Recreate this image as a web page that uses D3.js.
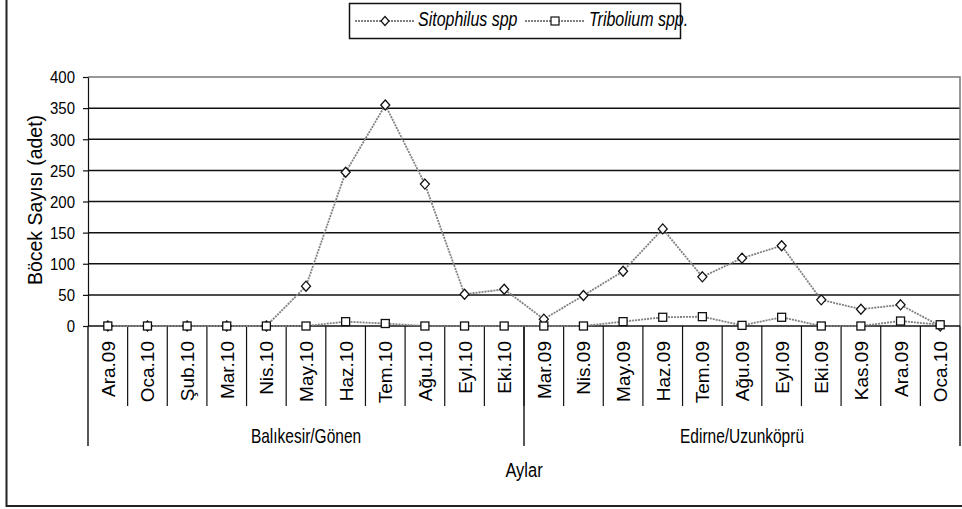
<!DOCTYPE html>
<html><head><meta charset="utf-8">
<script src="https://cdn.jsdelivr.net/npm/d3@7/dist/d3.min.js"></script>
<style>body{margin:0;background:#fff}svg{display:block;font-family:"Liberation Sans",Arial,sans-serif}</style>
</head><body><svg id="c" width="962" height="509"></svg>
<script>
const groups = ["Balıkesir/Gönen", "Edirne/Uzunköprü"];
const months1 = ["Ara.09","Oca.10","Şub.10","Mar.10","Nis.10","May.10","Haz.10","Tem.10","Ağu.10","Eyl.10","Eki.10"];
const months2 = ["Mar.09","Nis.09","May.09","Haz.09","Tem.09","Ağu.09","Eyl.09","Eki.09","Kas.09","Ara.09","Oca.10"];
const sitophilus = [0,0,0,0,0,64,247,355,228,51,59, 11,49,88,156,79,109,129,42,27,34,0];
const tribolium  = [0,0,0,0,0,0,7,4,0,0,0, 0,0,7,14,15,1,14,0,0,8,2];
const yTicks = [0,50,100,150,200,250,300,350,400];
const seriesNames = ["Sitophilus spp", "Tribolium spp."];

const svg = d3.select("#c");
const L = 88, R = 960, T = 77, B = 326;
const cats = months1.map((m,i)=>"g1_"+i).concat(months2.map((m,i)=>"g2_"+i));
const labels = months1.concat(months2);
const x = d3.scaleBand().domain(cats).range([L,R]);
const y = d3.scaleLinear().domain([0,400]).range([B,T]);

// horizontal text with vertical stretch
function stext(g, tx, ty, str, size, k, anchor, style){
  const t = g.append("text").attr("transform",`translate(${tx},${ty}) scale(1,${k})`)
    .attr("text-anchor",anchor||"start").attr("font-size",size).text(str);
  if(style) t.attr("font-style",style);
  return t;
}

// outer frame (left & bottom visible)
svg.append("path").attr("d",`M6.5,0 V506 H962`).attr("fill","none").attr("stroke","#222").attr("stroke-width",2);

// gridlines
svg.append("g").selectAll("line").data(yTicks.filter(v=>v>0&&v<400)).join("line")
  .attr("x1",L).attr("x2",R).attr("y1",d=>y(d)).attr("y2",d=>y(d))
  .attr("stroke","#111").attr("stroke-width",1.5);
// plot border top & right
svg.append("path").attr("d",`M${L},${y(400)} H${R} V${B}`).attr("fill","none").attr("stroke","#777").attr("stroke-width",1.5);

// y axis
const ya = svg.append("g").attr("transform",`translate(${L},0)`)
  .call(d3.axisLeft(y).tickValues(yTicks).tickSize(5).tickPadding(8).tickSizeOuter(0));
ya.select(".domain").attr("stroke","#111").attr("stroke-width",1.2);
ya.selectAll(".tick line").attr("stroke","#111").attr("stroke-width",1.2);
ya.selectAll(".tick text").attr("font-size",15).attr("font-family","Liberation Sans, Arial").attr("fill","#000")
  .attr("dy",null).attr("y",5.8).attr("transform","scale(1,1.15)")
  .each(function(){ const tk=d3.select(this.parentNode); });
// fix scaled tick label positions: put scale around local origin (tick's translate applies outside)
ya.selectAll(".tick text").attr("transform","scale(1,1.15)").attr("y",5.0);

// x axis line
svg.append("line").attr("x1",L).attr("x2",R).attr("y1",B).attr("y2",B).attr("stroke","#111").attr("stroke-width",1.5);
// month dividers
const divs = cats.map(c=>x(c)).slice(1);
svg.append("g").selectAll("line").data(divs).join("line")
  .attr("x1",d=>d).attr("x2",d=>d).attr("y1",B).attr("y2",406).attr("stroke","#111").attr("stroke-width",1.2);
// group dividers
const gdiv = [L, x("g2_0"), R];
svg.append("g").selectAll("line").data(gdiv).join("line")
  .attr("x1",d=>d).attr("x2",d=>d).attr("y1",B).attr("y2",446).attr("stroke","#111").attr("stroke-width",1.4);
// month labels
svg.append("g").selectAll("text").data(cats).join("text")
  .attr("transform",c=>`translate(${x(c)+x.bandwidth()/2+7},341) rotate(-90)`)
  .attr("text-anchor","end").attr("font-size",19).text((c,i)=>labels[i]);
// group labels
stext(svg,(L+x("g2_0"))/2,443,groups[0],15.5,1.32,"middle");
stext(svg,(x("g2_0")+R)/2,443,groups[1],15.5,1.32,"middle");
// axis titles
stext(svg,524,477,"Aylar",16.5,1.17,"middle");
svg.append("text").attr("transform","translate(42,200) rotate(-90)").attr("text-anchor","middle").attr("font-size",19.5).text("Böcek Sayısı (adet)");

// series lines
const line = d3.line().x((d,i)=>x(cats[i])+x.bandwidth()/2).y(d=>y(d));
function drawLine(data){
  svg.append("path").datum(data).attr("d",line).attr("fill","none")
    .attr("stroke","#808080").attr("stroke-width",1.8).attr("stroke-dasharray","2,1");
}
drawLine(tribolium);
drawLine(sitophilus);
const diamond = s => `M0,${-s} L${s*0.9},0 L0,${s} L${-s*0.9},0 Z`;
svg.append("g").selectAll("path").data(sitophilus).join("path")
  .attr("transform",(d,i)=>`translate(${x(cats[i])+x.bandwidth()/2},${y(d)})`)
  .attr("d",diamond(5)).attr("fill","#fff").attr("stroke","#111").attr("stroke-width",1.3);
svg.append("g").selectAll("rect").data(tribolium).join("rect")
  .attr("x",(d,i)=>x(cats[i])+x.bandwidth()/2-4).attr("y",d=>y(d)-4).attr("width",8).attr("height",8)
  .attr("fill","#fff").attr("stroke","#111").attr("stroke-width",1.3);

// legend
const lg = svg.append("g");
lg.append("rect").attr("x",349.5).attr("y",3.5).attr("width",331).attr("height",35).attr("fill","#fff").attr("stroke","#111").attr("stroke-width",1.5);
lg.append("line").attr("x1",355).attr("x2",415).attr("y1",21).attr("y2",21).attr("stroke","#808080").attr("stroke-width",1.8).attr("stroke-dasharray","2,1");
lg.append("path").attr("transform","translate(385,21)").attr("d",diamond(4.5)).attr("fill","#fff").attr("stroke","#111").attr("stroke-width",1.2);
stext(lg,418,26,seriesNames[0],16,1.22,"start","italic");
lg.append("line").attr("x1",525).attr("x2",585).attr("y1",21).attr("y2",21).attr("stroke","#808080").attr("stroke-width",1.8).attr("stroke-dasharray","2,1");
lg.append("rect").attr("x",551).attr("y",17).attr("width",8).attr("height",8).attr("fill","#fff").attr("stroke","#111").attr("stroke-width",1.2);
stext(lg,589,26,seriesNames[1],16,1.22,"start","italic");
</script></body></html>
